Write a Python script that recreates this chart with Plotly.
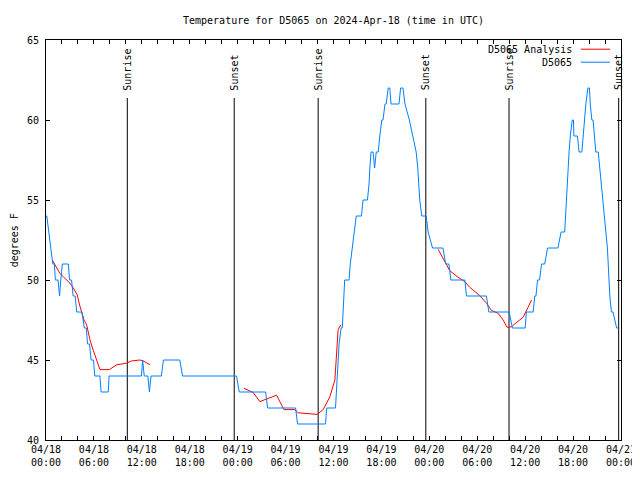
import pandas as pd
import plotly.graph_objects as go

START = pd.Timestamp("2024-04-18 00:00")

# Observed temperatures (hours since 04/18 00:00 UTC, deg F)
obs_hours = [0.0, 0.1, 0.35, 0.6, 0.85, 1.05, 1.17, 1.5, 1.7, 1.85, 2.05, 2.8, 2.95, 3.2, 3.4, 3.65,
             3.85, 4.5, 4.8, 5.05, 5.2, 5.45, 5.65, 5.95, 6.1, 6.75, 6.9, 7.8, 7.9, 11.95, 12.1, 12.3,
             12.75, 12.95, 13.15, 14.45, 14.7, 16.75, 17.1, 23.85, 24.2, 27.5, 27.75, 31.25, 31.5,
             35.0, 35.15, 36.25, 36.5, 36.7, 36.95, 37.1, 37.2, 37.3, 37.4, 37.95, 38.1, 38.35, 38.6,
             38.85, 39.5, 39.7, 40.25, 40.45, 40.55, 40.7, 40.95, 41.15, 41.35, 41.6, 41.8, 42.05,
             42.2, 42.45, 42.6, 42.85, 43.05, 43.2, 44.2, 44.4, 44.7, 44.95, 45.5, 45.95, 46.35,
             46.55, 46.65, 46.8, 47.05, 47.6, 47.85, 48.4, 49.7, 50.05, 50.45, 50.7, 52.45, 52.65,
             55.15, 55.45, 58.0, 58.4, 60.0, 60.15, 61.0, 61.2, 61.35, 61.55, 61.8, 62.05, 62.45,
             62.8, 64.1, 64.5, 64.95, 65.05, 65.15, 65.3, 65.4, 65.5, 65.65, 65.9, 66.05, 66.1,
             66.55, 66.75, 67.1, 67.25, 67.4, 67.6, 67.85, 68.05, 68.15, 68.35, 68.5, 68.65, 68.85,
             69.15, 69.35, 69.55, 69.75, 69.95, 70.15, 70.3, 70.4, 70.5, 70.6, 70.8, 71.0, 71.45,
             71.7, 72.0]
obs_temps = [54, 54, 53, 52, 51, 51, 50, 50, 49, 50, 51, 51, 50, 50, 49, 49,
             48, 48, 47, 47, 46, 46, 45, 45, 44, 44, 43, 43, 44, 44, 45, 44,
             44, 43, 44, 44, 45, 45, 44, 44, 43, 43, 42, 42, 41,
             41, 42, 42, 44, 46, 47, 47, 48, 49, 50, 50, 51, 52, 53,
             54, 54, 55, 55, 56, 57, 58, 58, 57, 58, 58, 59, 60,
             60, 61, 61, 62, 62, 61, 61, 62, 62, 61, 60, 59, 58,
             57, 56, 55, 54, 54, 53, 52, 52, 51, 51, 50, 50, 49,
             49, 48, 48, 47, 47, 48, 48, 49, 49, 50, 50, 51, 51,
             52, 52, 53, 53, 54, 55, 56, 57, 58, 59, 60, 60, 59,
             59, 58, 58, 59, 60, 61, 62, 62, 61, 60, 60, 59, 58,
             58, 57, 56, 55, 54, 53, 52, 51, 50, 49, 48, 48,
             47, 47]

# Analysis series (None = gap)
ana_hours = [0.79, 1.75, 2.17, 2.59, 3.0, 3.42, 3.92, 4.17, 4.47, 4.76, 5.09, 5.51, 5.92, 6.35,
             6.76, 7.92, 8.85, 10.1, 10.72, 11.76, 12.18, 13.02, None,
             24.78, 25.94, 26.78, 27.82, 28.87, 29.79, 31.16, 31.58, 33.96, 34.71, 35.54, 36.17,
             36.58, 36.92, None,
             49.1, 49.94, 50.56, 51.6, 52.44, 53.07, 54.32, 55.16, 55.78, 56.61, 57.24, 57.74,
             58.29, 58.7, 59.74, 60.36, 60.79]
ana_temps = [51.25, 50.4, 50.2, 50.0, 49.8, 49.5, 49.06, 48.5, 48.0, 47.5, 47.2, 46.25, 45.6, 45.0,
             44.4, 44.4, 44.7, 44.8, 44.94, 45.0, 44.94, 44.7, None,
             43.23, 42.97, 42.4, 42.6, 42.8, 41.9, 41.9, 41.7, 41.6, 41.9, 42.7, 43.75,
             46.9, 47.2, None,
             51.92, 51.14, 50.58, 50.17, 49.9, 49.54, 49.02, 48.54, 48.1, 47.92, 47.5, 47.04,
             47.08, 47.25, 47.67, 48.29, 48.75]

sun_hours = [10.18, 23.57, 34.08, 47.56, 57.98, 71.71]
sun_labels = ["Sunrise", "Sunset", "Sunrise", "Sunset", "Sunrise", "Sunset"]
sun_line_top = 61.375

y_ticks = [40, 45, 50, 55, 60, 65]


def to_time(h):
    return None if h is None else START + pd.Timedelta(hours=h)


FONT = "DejaVu Sans Mono"
fig = go.Figure()

for h, lab in zip(sun_hours, sun_labels):
    t = to_time(h)
    fig.add_trace(go.Scatter(x=[t, t], y=[40, sun_line_top], mode="lines",
                             line=dict(color="black", width=1), showlegend=False,
                             hoverinfo="skip"))
    fig.add_annotation(x=t, xref="x", y=(sun_line_top + 0.35 - 40) / 25, yref="paper",
                       text=lab, textangle=-90, showarrow=False, xanchor="center",
                       yanchor="bottom", font=dict(family=FONT, size=10, color="black"))

fig.add_trace(go.Scatter(x=[to_time(h) for h in ana_hours], y=ana_temps, mode="lines",
                         name="D5065 Analysis", line=dict(color="#ff0000", width=1),
                         connectgaps=False, showlegend=False))
fig.add_trace(go.Scatter(x=[to_time(h) for h in obs_hours], y=obs_temps, mode="lines",
                         name="D5065", line=dict(color="#0080ff", width=1),
                         showlegend=False))

# Manual legend (gnuplot style: text then sample)
for i, (name, col) in enumerate([("D5065 Analysis", "#ff0000"), ("D5065", "#0080ff")]):
    yp = 0.977 - i * 0.0325
    fig.add_annotation(x=0.918, y=yp, xref="paper", yref="paper", text=name, showarrow=False,
                       xanchor="right", yanchor="middle",
                       font=dict(family=FONT, size=10, color="black"))
    fig.add_shape(type="line", xref="paper", yref="paper", x0=0.930, x1=0.981, y0=yp, y1=yp,
                  line=dict(color=col, width=1))

fig.add_annotation(x=-0.042, y=0.5, xref="paper", yref="paper", text="degrees F",
                   textangle=-90, showarrow=False, xanchor="right", yanchor="middle",
                   font=dict(family=FONT, size=10, color="black"))

# page body has an 8px margin, so the figure is 8px smaller and margins shifted
fig.update_layout(
    width=632, height=472,
    margin=dict(l=38, r=19, t=32, b=40, autoexpand=False),
    paper_bgcolor="white", plot_bgcolor="white",
    font=dict(family=FONT, size=10, color="black"),
    title=dict(text="Temperature for D5065 on 2024-Apr-18 (time in UTC)", x=0.5, xref="paper",
               y=1 - 12 / 472, yanchor="middle", font=dict(family=FONT, size=10, color="black")),
    showlegend=False,
)
fig.update_xaxes(type="date", range=[START, START + pd.Timedelta(hours=72)],
                 tick0=START, dtick=6 * 3600 * 1000, tickformat="%m/%d<br>%H:%M",
                 ticks="inside", ticklen=4, tickcolor="black",
                 minor=dict(dtick=2 * 3600 * 1000, ticks="inside", ticklen=4, tickcolor="black",
                            showgrid=False),
                 showline=True, linecolor="black", linewidth=1, mirror="ticks",
                 showgrid=False, zeroline=False)
fig.update_yaxes(range=[40, 65], tickvals=y_ticks, ticks="inside", ticklen=4, tickcolor="black",
                 showline=True, linecolor="black", linewidth=1, mirror="ticks",
                 showgrid=False, zeroline=False, ticklabelstandoff=4)

fig.write_html("out.html")
